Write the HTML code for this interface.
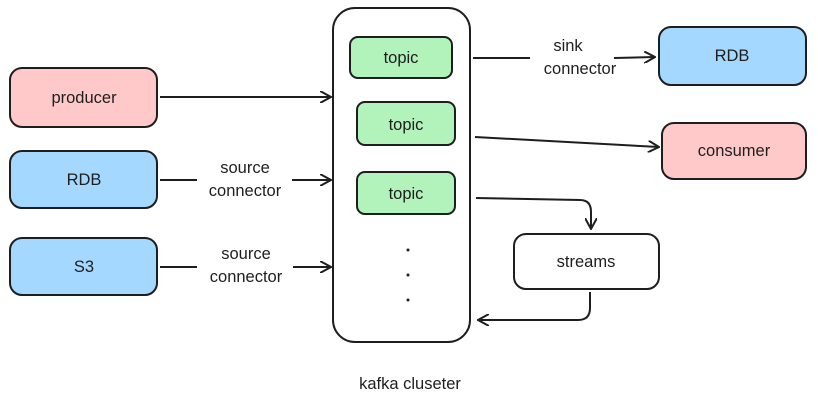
<!DOCTYPE html>
<html><head><meta charset="utf-8"><style>
html,body{margin:0;padding:0;background:#fff;}
svg{display:block;}
text{font-family:"Liberation Sans",sans-serif;font-size:16.5px;fill:#1e1e1e;text-anchor:middle;}
</style></head><body>
<svg width="818" height="407" viewBox="0 0 818 407" xmlns="http://www.w3.org/2000/svg">
<defs>
<marker id="a" viewBox="0 0 12 12" refX="11" refY="6" markerWidth="12" markerHeight="12" markerUnits="userSpaceOnUse" orient="auto">
<path d="M0,0 L11,6 L0,12" fill="none" stroke="#1e1e1e" stroke-width="2"/>
</marker>
</defs>
<g stroke="#1e1e1e" stroke-width="2">
<rect x="10" y="68" width="147" height="59" rx="12" fill="#ffc9c9"/>
<rect x="10" y="151" width="147" height="57" rx="12" fill="#a5d8ff"/>
<rect x="10" y="238" width="147" height="57" rx="12" fill="#a5d8ff"/>
<rect x="333" y="8" width="137" height="334" rx="22" fill="#fff"/>
<rect x="350" y="37" width="102" height="41" rx="8" fill="#b2f2bb"/>
<rect x="357" y="102" width="98" height="43" rx="8" fill="#b2f2bb"/>
<rect x="357" y="172" width="98" height="42" rx="8" fill="#b2f2bb"/>
<rect x="659" y="27" width="147" height="58" rx="12" fill="#a5d8ff"/>
<rect x="662" y="123" width="144" height="56" rx="12" fill="#ffc9c9"/>
<rect x="514" y="234" width="145" height="55" rx="12" fill="#fff"/>
</g>
<g stroke="#1e1e1e" stroke-width="2" fill="none" marker-end="url(#a)">
<path d="M160,97 L331,97"/>
<path d="M160,180 L197,180 M292,180 L331,180"/>
<path d="M160,267 L197,267 M293,267 L331,267"/>
<path d="M473,58 L530,58 M614,58 L655,57"/>
<path d="M475,137 L659,147"/>
<path d="M476,198 L580,200 Q591,200 591,212 L591,229"/>
<path d="M590,292 L590,308 Q590,320 578,320 L478,320"/>
</g>
<g fill="#1e1e1e"><circle cx="408" cy="250" r="1.5"/><circle cx="408" cy="275" r="1.5"/><circle cx="408" cy="300" r="1.5"/></g>
<text x="84" y="103">producer</text>
<text x="84" y="185">RDB</text>
<text x="84" y="272">S3</text>
<text x="401" y="63">topic</text>
<text x="406" y="130">topic</text>
<text x="406" y="199">topic</text>
<text x="732" y="61">RDB</text>
<text x="734" y="156">consumer</text>
<text x="586" y="267">streams</text>
<text x="245" y="173">source</text>
<text x="245" y="196">connector</text>
<text x="246" y="259">source</text>
<text x="246" y="282">connector</text>
<text x="568" y="51">sink</text>
<text x="580" y="74">connector</text>
<text x="410" y="389">kafka cluseter</text>
</svg>
</body></html>
